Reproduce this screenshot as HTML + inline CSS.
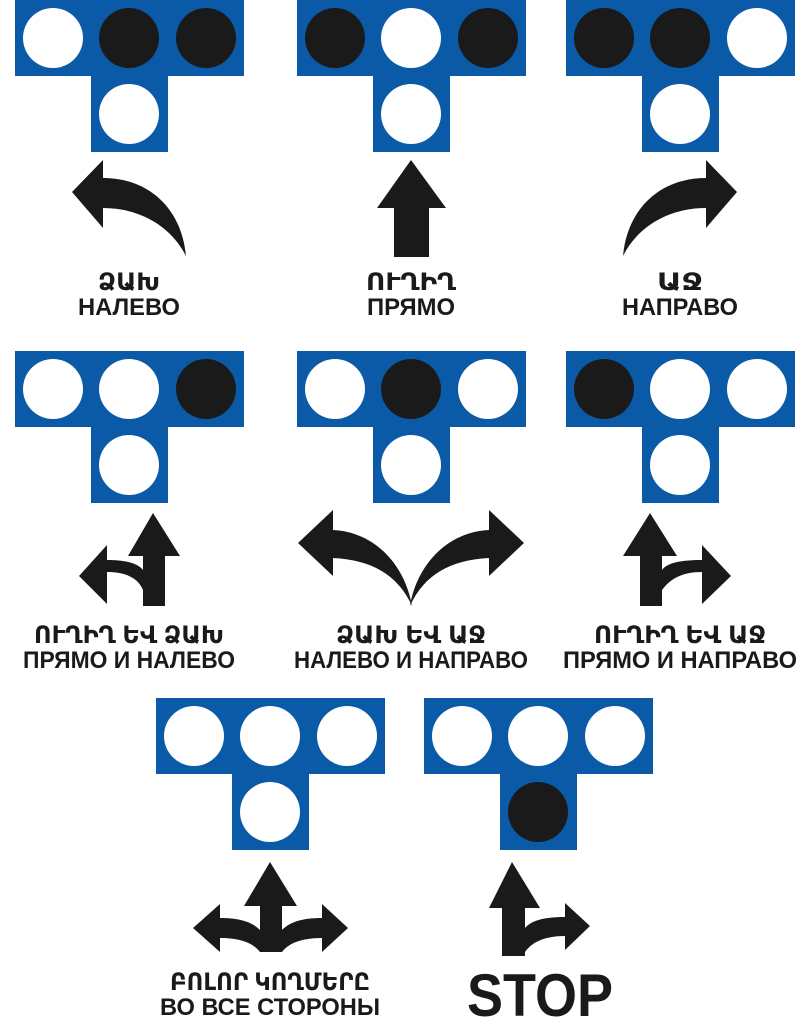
<!DOCTYPE html>
<html><head><meta charset="utf-8"><style>
html,body{margin:0;padding:0;background:#fff;}
svg{display:block;}
text{font-family:"Liberation Sans","DejaVu Sans",sans-serif;font-weight:bold;fill:#1a1a1a;text-anchor:middle;}
</style></head><body>
<svg width="809" height="1024" viewBox="0 0 809 1024" xmlns="http://www.w3.org/2000/svg">
<defs>
<g id="sig"><path d="M0,0H229V76H153V152H76V76H0Z" fill="#0a5aa8"/></g>
</defs>
<use href="#sig" x="15" y="0"/>
<use href="#sig" x="297" y="0"/>
<use href="#sig" x="566" y="0"/>
<use href="#sig" x="15" y="351"/>
<use href="#sig" x="297" y="351"/>
<use href="#sig" x="566" y="351"/>
<use href="#sig" x="156" y="698"/>
<use href="#sig" x="424" y="698"/>
<g stroke="none">
<circle cx="53" cy="38" r="30" fill="#fff"/><circle cx="129" cy="38" r="30" fill="#1a1a1a"/><circle cx="206" cy="38" r="30" fill="#1a1a1a"/><circle cx="129" cy="114" r="30" fill="#fff"/>
<circle cx="335" cy="38" r="30" fill="#1a1a1a"/><circle cx="411" cy="38" r="30" fill="#fff"/><circle cx="488" cy="38" r="30" fill="#1a1a1a"/><circle cx="411" cy="114" r="30" fill="#fff"/>
<circle cx="604" cy="38" r="30" fill="#1a1a1a"/><circle cx="680" cy="38" r="30" fill="#1a1a1a"/><circle cx="757" cy="38" r="30" fill="#fff"/><circle cx="680" cy="114" r="30" fill="#fff"/>
<circle cx="53" cy="389" r="30" fill="#fff"/><circle cx="129" cy="389" r="30" fill="#fff"/><circle cx="206" cy="389" r="30" fill="#1a1a1a"/><circle cx="129" cy="465" r="30" fill="#fff"/>
<circle cx="335" cy="389" r="30" fill="#fff"/><circle cx="411" cy="389" r="30" fill="#1a1a1a"/><circle cx="488" cy="389" r="30" fill="#fff"/><circle cx="411" cy="465" r="30" fill="#fff"/>
<circle cx="604" cy="389" r="30" fill="#1a1a1a"/><circle cx="680" cy="389" r="30" fill="#fff"/><circle cx="757" cy="389" r="30" fill="#fff"/><circle cx="680" cy="465" r="30" fill="#fff"/>
<circle cx="194" cy="736" r="30" fill="#fff"/><circle cx="270" cy="736" r="30" fill="#fff"/><circle cx="347" cy="736" r="30" fill="#fff"/><circle cx="270" cy="812" r="30" fill="#fff"/>
<circle cx="462" cy="736" r="30" fill="#fff"/><circle cx="538" cy="736" r="30" fill="#fff"/><circle cx="615" cy="736" r="30" fill="#fff"/><circle cx="538" cy="812" r="30" fill="#1a1a1a"/>
</g>
<g fill="#1a1a1a">
<path d="M72,192 L103,160 L103,178 C150,178 182,210 186,256 C172,228 142,208 103,208 L103,228 Z"/>
<path d="M411,160 L446,208 L429,208 L429,257 L394,257 L394,208 L377,208 Z"/>
<path d="M737,192 L706,160 L706,178 C659,178 627,210 623,256 C637,228 667,208 706,208 L706,228 Z"/>
<path d="M153,513 L180,556 L165,556 L165,606 L143,606 L143,590 C138,578 126,572 107,572 L107,604 L79,576 L107,545 L107,560 C125,560 138,563 143,570 L143,556 L128,556 Z"/>
<path d="M298,543 L333,510 L333,530 C375,532 405,565 412,606 C398,575 372,560 333,558 L333,576 Z"/>
<path d="M524,543 L489,510 L489,530 C447,532 417,565 410,606 C424,575 450,560 489,558 L489,576 Z"/>
<path d="M650,513 L677,556 L662,556 L662,570 C667,563 680,560 702,560 L702,545 L731,576 L702,604 L702,572 C683,572 671,578 662,590 L662,606 L640,606 L640,556 L623,556 Z"/>
<path d="M270,862 L297,906 L282,906 L282,930 C290,922 302,918 322,918 L322,904 L348,928 L322,952 L322,938 C300,938 288,944 282,952 L260,952 C254,944 242,938 220,938 L220,952 L193,928 L220,904 L220,918 C240,918 252,922 260,930 L260,906 L244,906 Z"/>
<path d="M512,862 L540,908 L525,908 L525,928 C532,920 545,917 565,917 L565,903 L590,926 L565,950 L565,936 C545,936 532,942 525,952 L525,956 L502,956 L502,908 L489,908 Z"/>
</g>
<g font-size="24">
<text x="129" y="290" textLength="62" lengthAdjust="spacingAndGlyphs">ՁԱԽ</text>
<text x="129" y="315" textLength="102" lengthAdjust="spacingAndGlyphs">НАЛЕВО</text>
<text x="411" y="290" textLength="90" lengthAdjust="spacingAndGlyphs">ՈՒՂԻՂ</text>
<text x="411" y="315" textLength="88" lengthAdjust="spacingAndGlyphs">ПРЯМО</text>
<text x="680" y="290" textLength="46" lengthAdjust="spacingAndGlyphs">ԱՋ</text>
<text x="680" y="315" textLength="116" lengthAdjust="spacingAndGlyphs">НАПРАВО</text>
<text x="129" y="643" textLength="190" lengthAdjust="spacingAndGlyphs">ՈՒՂԻՂ ԵՎ ՁԱԽ</text>
<text x="129" y="668" textLength="212" lengthAdjust="spacingAndGlyphs">ПРЯМО И НАЛЕВО</text>
<text x="411" y="643" textLength="150" lengthAdjust="spacingAndGlyphs">ՁԱԽ ԵՎ ԱՋ</text>
<text x="411" y="668" textLength="234" lengthAdjust="spacingAndGlyphs">НАЛЕВО И НАПРАВО</text>
<text x="680" y="643" textLength="172" lengthAdjust="spacingAndGlyphs">ՈՒՂԻՂ ԵՎ ԱՋ</text>
<text x="680" y="668" textLength="234" lengthAdjust="spacingAndGlyphs">ПРЯМО И НАПРАВО</text>
<text x="270" y="990" textLength="200" lengthAdjust="spacingAndGlyphs">ԲՈԼՈՐ ԿՈՂՄԵՐԸ</text>
<text x="270" y="1015" textLength="220" lengthAdjust="spacingAndGlyphs">ВО ВСЕ СТОРОНЫ</text>
</g>
<text x="540" y="1016" font-size="60" textLength="146" lengthAdjust="spacingAndGlyphs">STOP</text>
</svg>
</body></html>
